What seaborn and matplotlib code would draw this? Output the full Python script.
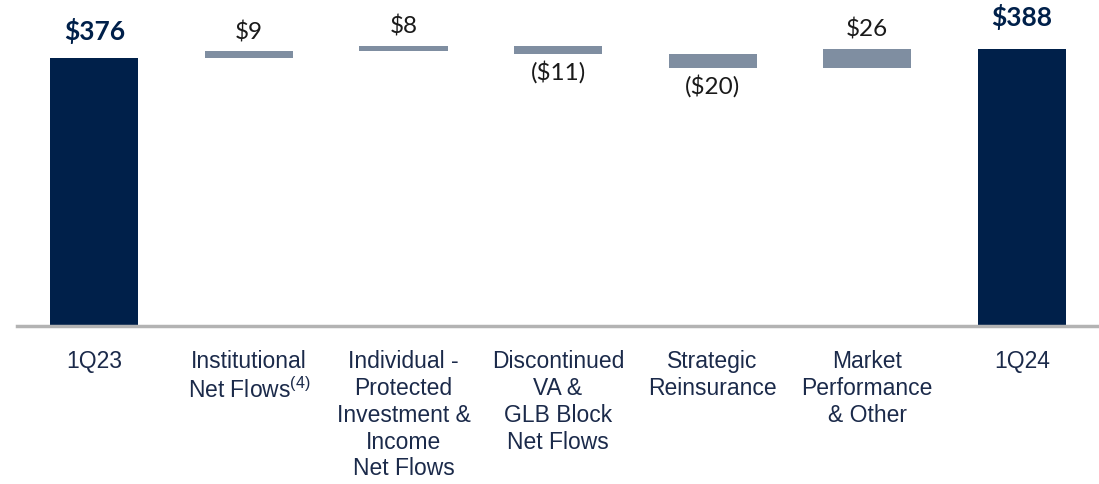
import numpy as np
import pandas as pd
import matplotlib
matplotlib.use("Agg")
import matplotlib.pyplot as plt
import seaborn as sns

categories = ["1Q23", "Institutional\nNet Flows$^{\\mathregular{(4)}}$",
              "Individual -\nProtected\nInvestment &\nIncome\nNet Flows",
              "Discontinued\nVA &\nGLB Block\nNet Flows",
              "Strategic\nReinsurance", "Market\nPerformance\n& Other", "1Q24"]
start_total = 376
changes = [9, 8, -11, -20, 26]
end_total = 388

navy = "#00204a"
slate = "#7f8ea1"

# waterfall geometry from the values
levels = np.cumsum([start_total] + changes)
bottoms = [0] + [min(levels[i], levels[i + 1]) for i in range(len(changes))] + [0]
heights = [start_total] + [abs(c) for c in changes] + [end_total]
labels = ["$376"] + [f"${c}" if c > 0 else f"(${-c})" for c in changes] + ["$388"]

df = pd.DataFrame({"cat": categories, "height": heights})

sns.set_theme(style="white")
plt.rcParams["font.family"] = ["Liberation Sans Narrow", "Liberation Sans", "DejaVu Sans"]

fig = plt.figure(figsize=(10.99, 4.84), dpi=100)
ax = fig.add_axes([0.0155, 0.3264, 0.9845, 0.6736])

sns.barplot(data=df, x="cat", y="height", order=categories, color=slate,
            width=0.57, bottom=bottoms, saturation=1, ax=ax)
for i, p in enumerate(ax.patches):
    p.set_facecolor(navy if i in (0, len(categories) - 1) else slate)
    p.set_edgecolor("none")

ax.set_xlim(-0.5, len(categories) - 0.5)
ax.set_ylim(0, 457)
ax.set_xlabel("")
ax.set_ylabel("")
ax.set_yticks([])
sns.despine(ax=ax, left=True, right=True, top=True)
ax.spines["bottom"].set_color("#b3b3b3")
ax.spines["bottom"].set_linewidth(2.5)
ax.tick_params(axis="x", length=0, pad=17)
for t in ax.get_xticklabels():
    t.set_fontsize(16.5)
    t.set_color("#1b2a4a")
    t.set_linespacing(1.22)
    t.set_verticalalignment("top")

vfont = ["Lato", "DejaVu Sans"]
for i, lab in enumerate(labels):
    top = bottoms[i] + heights[i]
    if i == 0 or i == len(categories) - 1:
        ax.annotate(lab, (i, top), xytext=(0, 10 if i == 0 else 14), textcoords="offset points",
                    ha="center", va="bottom", fontsize=19, fontweight="bold",
                    color=navy, family=vfont)
    elif changes[i - 1] > 0:
        ax.annotate(lab, (i, top), xytext=(0, 6), textcoords="offset points",
                    ha="center", va="bottom", fontsize=17.5, color="#1a1a1a", family=vfont)
    else:
        ax.annotate(lab, (i, bottoms[i]), xytext=(0, -5), textcoords="offset points",
                    ha="center", va="top", fontsize=17.5, color="#1a1a1a", family=vfont)

fig.savefig("out.png", dpi=100)
